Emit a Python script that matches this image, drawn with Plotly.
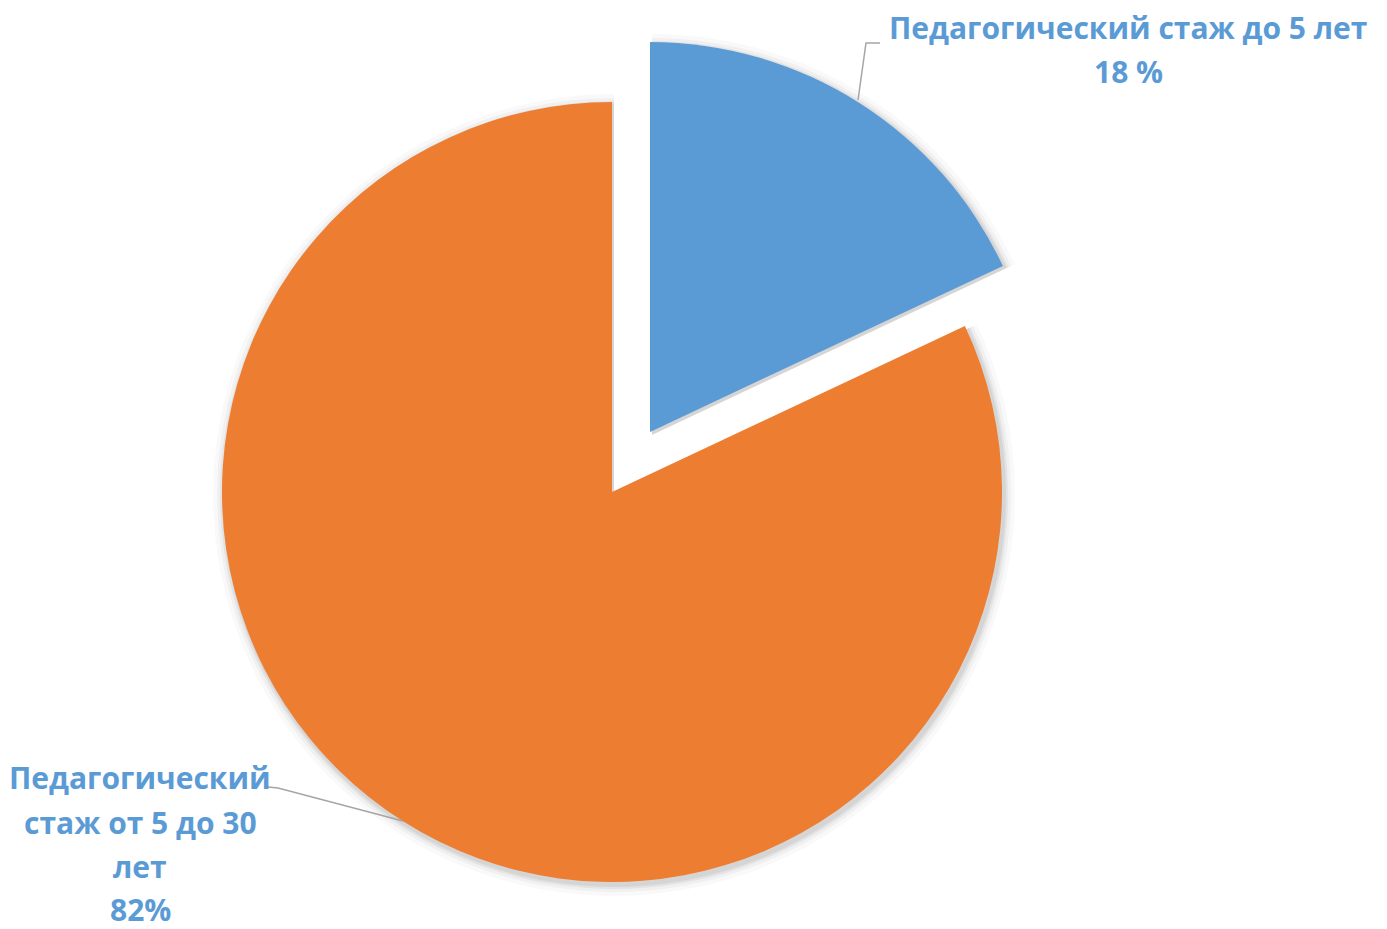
import plotly.graph_objects as go

categories = ["Педагогический стаж до 5 лет", "Педагогический стаж от 5 до 30 лет"]
values = [18, 82]
label_texts = ["18 %", "82%"]
colors = ["#5B9BD5", "#ED7D31"]

OFF = 8                       # default page body margin
W, H = 1387 - OFF, 929 - OFF
R = 390
center_main = (612, 492)      # pixel centre of the pie (in window pixels)
center_pulled = (650, 432)    # pixel centre of the pulled-out slice


def px(x, y):
    return (x - OFF) / W, 1 - (y - OFF) / H


def domain(cx, cy, r):
    x0, y1 = px(cx - r, cy - r)
    x1, y0 = px(cx + r, cy + r)
    return dict(x=[x0, x1], y=[y0, y1])


fig = go.Figure()

# soft shadow layers
for off, alpha in [(11, 0.025), (7, 0.035), (4, 0.05), (2, 0.06)]:
    for ci, center in enumerate([center_main, center_pulled]):
        cols = ["rgba(0,0,0,0)", "rgba(0,0,0,0)"]
        cols[1 - ci] = f"rgba(0,0,0,{alpha})"
        fig.add_trace(go.Pie(
            labels=categories, values=values, sort=False, direction="clockwise",
            rotation=0, textinfo="none", hoverinfo="skip", showlegend=False,
            marker=dict(colors=cols, line=dict(width=0)),
            domain=domain(center[0] + 2, center[1] + 3, R + off),
        ))

# main pie (orange visible)
fig.add_trace(go.Pie(
    labels=categories, values=values, sort=False, direction="clockwise",
    rotation=0, textinfo="none", showlegend=False,
    marker=dict(colors=["rgba(0,0,0,0)", colors[1]], line=dict(width=0)),
    domain=domain(center_main[0], center_main[1], R),
))
# pulled slice (blue visible)
fig.add_trace(go.Pie(
    labels=categories, values=values, sort=False, direction="clockwise",
    rotation=0, textinfo="none", showlegend=False,
    marker=dict(colors=[colors[0], "rgba(0,0,0,0)"], line=dict(width=0)),
    domain=domain(center_pulled[0], center_pulled[1], R),
))

font = dict(family="Open Sans", size=30, color="#5B9BD5")


def ann(text, x, y):
    ax, ay = px(x, y)
    fig.add_annotation(text=f"<b>{text}</b>", x=ax, y=ay, xref="paper", yref="paper",
                       showarrow=False, xanchor="center", yanchor="middle", font=font,
                       borderpad=0)


ann("Педагогический стаж до 5 лет", 1128, 27)
ann(label_texts[0], 1128, 71)
ann("Педагогический", 140, 777)
ann("стаж от 5 до 30", 140, 822)
ann("лет", 140, 866)
ann(label_texts[1], 140, 909)

line = dict(color="#A5A5A5", width=1.5)


def path(pts):
    d = "M " + " L ".join("{},{}".format(*px(x, y)) for x, y in pts)
    fig.add_shape(type="path", path=d, xref="paper", yref="paper", line=line)


path([(858, 100), (866, 43), (880, 43)])
path([(268, 787), (278, 788), (403, 821)])

fig.update_layout(width=W, height=H, margin=dict(l=0, r=0, t=0, b=0),
                  paper_bgcolor="white", plot_bgcolor="white")

fig.write_html("out.html")
